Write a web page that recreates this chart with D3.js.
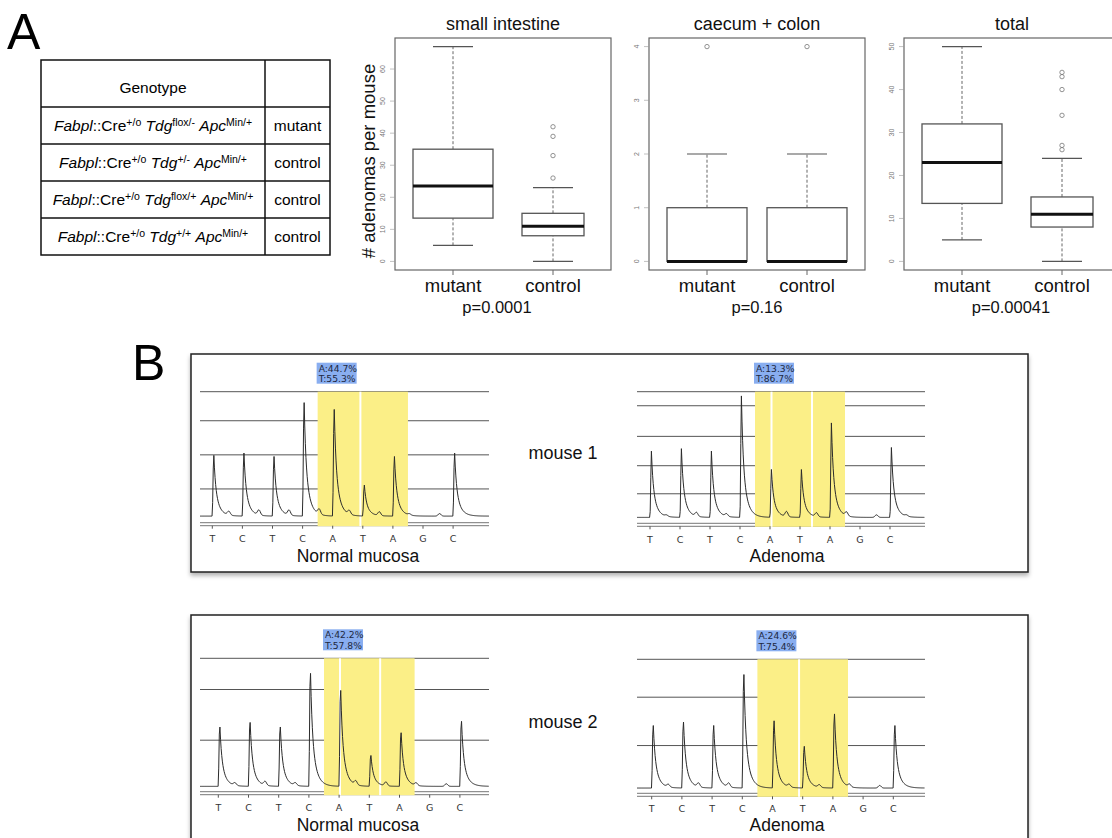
<!DOCTYPE html>
<html>
<head>
<meta charset="utf-8">
<script src="https://cdn.jsdelivr.net/npm/d3@7"></script>
<style>
  body { margin: 0; background: #fff; }
  svg { display: block; }
  text { font-family: "Liberation Sans", Arial, sans-serif; }
</style>
</head>
<body>
<script>
// ---------- panel A: genotype table ----------
var tdgAlleles = ["flox/-", "+/-", "flox/+", "+/+"];
var genoGroups = ["mutant", "control", "control", "control"];

// ---------- panel A: box plots (whisker low, Q1, median, Q3, whisker high) ----------
var boxGroups = ["mutant", "control"];
var boxTitles = ["small intestine", "caecum + colon", "total"];
var pValues = ["p=0.0001", "p=0.16", "p=0.00041"];

var smallIntMutant = [5, 13.5, 23.5, 35, 67];
var smallIntControl = [0, 8, 11, 15, 23];
var smallIntOutliers = [[], [26, 33, 39, 42]];
var smallIntTicks = [0, 10, 20, 30, 40, 50, 60];

var colonMutant = [0, 0, 0, 1, 2];
var colonControl = [0, 0, 0, 1, 2];
var colonOutliers = [[4], [4]];
var colonTicks = [0, 1, 2, 3, 4];

var totalMutant = [5, 13.5, 23, 32, 50];
var totalControl = [0, 8, 11, 15, 24];
var totalOutliers = [[], [26, 27, 34, 40, 43, 44]];
var totalTicks = [0, 10, 20, 30, 40, 50];

// ---------- panel B: pyrosequencing traces ----------
var bases = ["T", "C", "T", "C", "A", "T", "A", "G", "C"];

var m1NormalPeaks = [53, 55, 52, 99, 93, 27, 52, 0, 55];
var m1NormalMinor = [3, 4, 4, 4, 3, 3, 1, 2, 0];
var m1NormalGrid = [100, 77, 50, 23];
var m1NormalCuts = [4.92];
var m1NormalCalls = ["A:44.7%", "T:55.3%"];

var m1AdenomaPeaks = [54, 56, 54, 99, 39, 39, 77, 0, 57];
var m1AdenomaMinor = [1, 3, 2, 0, 4, 3, 3, 2, 1];
var m1AdenomaGrid = [100, 89, 65, 42, 20];
var m1AdenomaCuts = [4.05, 5.4];
var m1AdenomaCalls = ["A:13.3%", "T:86.7%"];

var m2NormalPeaks = [52, 56, 52, 99, 84, 27, 47, 0, 57];
var m2NormalMinor = [2, 3, 2, 0, 3, 3, 2, 2, 0];
var m2NormalGrid = [100, 76, 37];
var m2NormalCuts = [4.03, 5.36];
var m2NormalCalls = ["A:42.2%", "T:57.8%"];

var m2AdenomaPeaks = [54, 57, 54, 98, 58, 36, 64, 0, 54];
var m2AdenomaMinor = [2, 3, 3, 0, 2, 2, 2, 2, 0];
var m2AdenomaGrid = [100, 71, 34];
var m2AdenomaCuts = [4.88];
var m2AdenomaCalls = ["A:24.6%", "T:75.4%"];

var svg = d3.select("body")
    .append("svg")
    .attr("width", 1112)
    .attr("height", 838);

var defs = svg.append("defs");
defs.append("filter")
    .attr("id", "shadow")
    .attr("x", "-5%").attr("y", "-5%").attr("width", "110%").attr("height", "115%")
    .append("feDropShadow")
    .attr("dx", 0).attr("dy", 3).attr("stdDeviation", 2)
    .attr("flood-color", "#000").attr("flood-opacity", 0.3);

// panel letters
svg.append("text").attr("x", 7).attr("y", 49).attr("font-size", 50).text("A");
svg.append("text").attr("x", 132).attr("y", 380).attr("font-size", 50).text("B");

// ================= table =================
var rowLines = [60, 107, 144, 181, 218, 255];
var tLeft = 41, tRight = 330, tDiv = 265;
var table = svg.append("g");

table.append("rect")
    .attr("x", tLeft).attr("y", rowLines[0])
    .attr("width", tRight - tLeft).attr("height", rowLines[5] - rowLines[0])
    .attr("fill", "none").attr("stroke", "#111").attr("stroke-width", 1.5);
table.append("line")
    .attr("x1", tDiv).attr("x2", tDiv).attr("y1", rowLines[0]).attr("y2", rowLines[5])
    .attr("stroke", "#111").attr("stroke-width", 1.5);
table.selectAll(".rowline")
    .data(rowLines.slice(1, 5))
    .enter().append("line")
    .attr("x1", tLeft).attr("x2", tRight)
    .attr("y1", function(d){ return d; }).attr("y2", function(d){ return d; })
    .attr("stroke", "#111").attr("stroke-width", 1.5);

table.append("text")
    .attr("x", (tLeft + tDiv) / 2).attr("y", 93)
    .attr("text-anchor", "middle").attr("font-size", 15.5)
    .text("Genotype");

tdgAlleles.forEach(function(allele, i){
    var yMid = (rowLines[i + 1] + rowLines[i + 2]) / 2 + 5;
    var parts = [
        {t: "Fabpl", it: true}, {t: "::Cre"}, {t: "+/o", sup: true},
        {t: "\u00a0"}, {t: "Tdg", it: true}, {t: allele, sup: true},
        {t: "\u00a0"}, {t: "Apc", it: true}, {t: "Min/+", sup: true}
    ];
    var txt = table.append("text")
        .attr("x", (tLeft + tDiv) / 2).attr("y", yMid)
        .attr("text-anchor", "middle").attr("font-size", 15.5);
    var shifted = false;
    parts.forEach(function(p){
        var ts = txt.append("tspan").text(p.t);
        if (p.it) ts.attr("font-style", "italic");
        if (p.sup) {
            ts.attr("font-size", 10.5).attr("dy", shifted ? 0 : -5);
            shifted = true;
        } else if (shifted) {
            ts.attr("dy", 5);
            shifted = false;
        }
    });
    table.append("text")
        .attr("x", (tDiv + tRight) / 2).attr("y", yMid)
        .attr("text-anchor", "middle").attr("font-size", 15.5)
        .text(genoGroups[i]);
});

// ================= box plots =================
var plotTop = 38, plotBottom = 270, plotW = 216;
var boxPanels = [
    {left: 395, stats: [smallIntMutant, smallIntControl], out: smallIntOutliers, ticks: smallIntTicks, wid: [0.8, 0.62], pShift: -6},
    {left: 649, stats: [colonMutant, colonControl], out: colonOutliers, ticks: colonTicks, wid: [0.8, 0.8], pShift: 0},
    {left: 904, stats: [totalMutant, totalControl], out: totalOutliers, ticks: totalTicks, wid: [0.8, 0.62], pShift: -1}
];

boxPanels.forEach(function(p, k){
    var g = svg.append("g");
    var x = d3.scaleLinear().domain([0.42, 2.58]).range([p.left, p.left + plotW]);
    var allVals = d3.merge([p.stats[0], p.stats[1], p.out[0], p.out[1]]);
    var lo = d3.min(allVals), hi = d3.max(allVals), pad = (hi - lo) * 0.04;
    var y = d3.scaleLinear().domain([lo - pad, hi + pad]).range([plotBottom, plotTop]);

    g.append("rect")
        .attr("x", p.left).attr("y", plotTop)
        .attr("width", plotW).attr("height", plotBottom - plotTop)
        .attr("fill", "none").attr("stroke", "#666").attr("stroke-width", 1.2);

    // y axis ticks and rotated labels
    g.selectAll(".yt").data(p.ticks).enter().append("line")
        .attr("x1", p.left - 5).attr("x2", p.left)
        .attr("y1", function(d){ return y(d); }).attr("y2", function(d){ return y(d); })
        .attr("stroke", "#999").attr("stroke-width", 0.6);
    g.selectAll(".yl").data(p.ticks).enter().append("text")
        .attr("transform", function(d){ return "translate(" + (p.left - 10) + "," + y(d) + ") rotate(-90)"; })
        .attr("text-anchor", "middle").attr("font-size", 7).attr("fill", "#777")
        .text(function(d){ return d; });

    // x ticks and group labels
    boxGroups.forEach(function(name, j){
        var cx = x(j + 1);
        g.append("line")
            .attr("x1", cx).attr("x2", cx).attr("y1", plotBottom).attr("y2", plotBottom + 5)
            .attr("stroke", "#666");
        g.append("text")
            .attr("x", cx).attr("y", 292).attr("text-anchor", "middle")
            .attr("font-size", 18.5).attr("fill", "#111")
            .text(name);

        var s = p.stats[j];
        var half = p.wid[j] / 2;
        var capHalf = 0.2;
        // whiskers
        [[s[0], s[1]], [s[3], s[4]]].forEach(function(w){
            if (w[0] === w[1]) return;
            g.append("line")
                .attr("x1", cx).attr("x2", cx).attr("y1", y(w[0])).attr("y2", y(w[1]))
                .attr("stroke", "#666").attr("stroke-width", 1).attr("stroke-dasharray", "3,2");
        });
        [s[0], s[4]].forEach(function(v){
            g.append("line")
                .attr("x1", x(j + 1 - capHalf)).attr("x2", x(j + 1 + capHalf))
                .attr("y1", y(v)).attr("y2", y(v))
                .attr("stroke", "#555").attr("stroke-width", 1.2);
        });
        // box
        g.append("rect")
            .attr("x", x(j + 1 - half)).attr("y", y(s[3]))
            .attr("width", x(j + 1 + half) - x(j + 1 - half)).attr("height", y(s[1]) - y(s[3]))
            .attr("fill", "#fff").attr("stroke", "#555").attr("stroke-width", 1.3);
        g.append("line")
            .attr("x1", x(j + 1 - half)).attr("x2", x(j + 1 + half))
            .attr("y1", y(s[2])).attr("y2", y(s[2]))
            .attr("stroke", "#111").attr("stroke-width", 3);
        // outliers
        g.selectAll(".o" + j).data(p.out[j]).enter().append("circle")
            .attr("cx", cx).attr("cy", function(d){ return y(d); }).attr("r", 2.2)
            .attr("fill", "none").attr("stroke", "#777").attr("stroke-width", 0.8);
    });

    g.append("text")
        .attr("x", p.left + plotW / 2).attr("y", 30).attr("text-anchor", "middle")
        .attr("font-size", 18).attr("fill", "#111")
        .text(boxTitles[k]);
    g.append("text")
        .attr("x", p.left + plotW / 2 + p.pShift).attr("y", 313).attr("text-anchor", "middle")
        .attr("font-size", 16.5).attr("fill", "#111")
        .text(pValues[k]);
});

svg.append("text")
    .attr("transform", "translate(375,161) rotate(-90)")
    .attr("text-anchor", "middle").attr("font-size", 18.5).attr("fill", "#111")
    .text("# adenomas per mouse");

// ================= panel B =================
svg.append("rect")
    .attr("x", 191).attr("y", 354).attr("width", 837).attr("height", 218)
    .attr("fill", "#fff").attr("stroke", "#222").attr("stroke-width", 1.5)
    .attr("filter", "url(#shadow)");
svg.append("rect")
    .attr("x", 191).attr("y", 615).attr("width", 837).attr("height", 260)
    .attr("fill", "#fff").attr("stroke", "#222").attr("stroke-width", 1.5)
    .attr("filter", "url(#shadow)");

svg.append("text").attr("x", 563).attr("y", 459).attr("text-anchor", "middle")
    .attr("font-size", 18).attr("fill", "#111").text("mouse 1");
svg.append("text").attr("x", 563).attr("y", 728).attr("text-anchor", "middle")
    .attr("font-size", 18).attr("fill", "#111").text("mouse 2");

var chroms = [
    {peaks: m1NormalPeaks, minor: m1NormalMinor, grid: m1NormalGrid, cuts: m1NormalCuts, calls: m1NormalCalls,
     title: "Normal mucosa", left: 200, right: 489, x0: 212.3, step: 30.1, yBase: 518, yTop: 391.7, axisY: 522.7, letterY: 542, titleX: 358, titleY: 561.5},
    {peaks: m1AdenomaPeaks, minor: m1AdenomaMinor, grid: m1AdenomaGrid, cuts: m1AdenomaCuts, calls: m1AdenomaCalls,
     title: "Adenoma", left: 637, right: 925, x0: 650, step: 30, yBase: 519.3, yTop: 391.7, axisY: 523.3, letterY: 542.5, titleX: 787, titleY: 561.5},
    {peaks: m2NormalPeaks, minor: m2NormalMinor, grid: m2NormalGrid, cuts: m2NormalCuts, calls: m2NormalCalls,
     title: "Normal mucosa", left: 200, right: 489, x0: 218.3, step: 30.2, yBase: 788.3, yTop: 658.3, axisY: 791.7, letterY: 810.5, titleX: 358, titleY: 831},
    {peaks: m2AdenomaPeaks, minor: m2AdenomaMinor, grid: m2AdenomaGrid, cuts: m2AdenomaCuts, calls: m2AdenomaCalls,
     title: "Adenoma", left: 637, right: 925, x0: 651.7, step: 30.2, yBase: 790, yTop: 659.3, axisY: 793.3, letterY: 812, titleX: 787, titleY: 831}
];

// peak shape: sharp onset then fast + slow decay (dx in px)
function peakShape(dx){
    if (dx < -1.2) return 0;
    if (dx < 0) return 1 + dx / 1.2;
    return 0.55 * Math.exp(-dx / 1.8) + 0.45 * Math.exp(-dx / 4.8);
}
function bump(dx){
    return Math.exp(-dx * dx / 4);
}

chroms.forEach(function(c){
    var g = svg.append("g");
    var x = d3.scaleLinear().domain([0, bases.length - 1]).range([c.x0, c.x0 + (bases.length - 1) * c.step]);
    var y = d3.scaleLinear().domain([0, 100]).range([c.yBase, c.yTop]);

    // grid lines and double baseline
    g.selectAll(".grid").data(c.grid).enter().append("line")
        .attr("x1", c.left).attr("x2", c.right)
        .attr("y1", function(d){ return y(d); }).attr("y2", function(d){ return y(d); })
        .attr("stroke", "#555").attr("stroke-width", 1);
    [c.axisY, c.axisY + 3].forEach(function(ay){
        g.append("line").attr("x1", c.left).attr("x2", c.right).attr("y1", ay).attr("y2", ay)
            .attr("stroke", "#777").attr("stroke-width", 1);
    });

    // highlighted region with white separators
    var shadeBottom = c.axisY + 3.5;
    g.append("rect")
        .attr("x", x(3.5)).attr("y", y(100))
        .attr("width", x(6.5) - x(3.5)).attr("height", shadeBottom - y(100))
        .attr("fill", "#fbef87");
    g.selectAll(".cut").data(c.cuts).enter().append("rect")
        .attr("x", function(d){ return x(d) - 1; }).attr("y", y(100))
        .attr("width", 2).attr("height", shadeBottom - y(100))
        .attr("fill", "#fff");

    // base ticks and letters
    g.selectAll(".bt").data(bases).enter().append("line")
        .attr("x1", function(d, i){ return x(i); }).attr("x2", function(d, i){ return x(i); })
        .attr("y1", c.axisY + 3).attr("y2", c.axisY + 6)
        .attr("stroke", "#555");
    g.selectAll(".bl").data(bases).enter().append("text")
        .attr("x", function(d, i){ return x(i); }).attr("y", c.letterY)
        .attr("text-anchor", "middle").attr("font-size", 9.5).attr("fill", "#333")
        .style("font-family", "'DejaVu Sans', sans-serif")
        .text(function(d){ return d; });

    // trace
    var pts = d3.range(x.invert(c.left), x.invert(c.right), 0.02).map(function(u){
        var v = 1.5;
        c.peaks.forEach(function(h, i){ v += h * peakShape((u - i) * c.step - 1.3); });
        c.minor.forEach(function(h, i){ v += h * bump((u - i - 0.55) * c.step); });
        return [u, v];
    });
    g.append("path")
        .datum(pts)
        .attr("fill", "none").attr("stroke", "#2b2b2b").attr("stroke-width", 1)
        .attr("d", d3.line().x(function(d){ return x(d[0]); }).y(function(d){ return y(d[1]); }));

    // allele call label
    var lx = x(3.5);
    g.append("rect")
        .attr("x", lx - 1).attr("y", c.yTop - 29)
        .attr("width", 40).attr("height", 21)
        .attr("fill", "#89aef0");
    c.calls.forEach(function(t, i){
        g.append("text")
            .attr("x", lx + 1).attr("y", c.yTop - 20 + i * 10.5)
            .attr("font-size", 9.2).attr("fill", "#1d2840")
            .style("font-family", "'DejaVu Sans', sans-serif")
            .text(t);
    });

    g.append("text")
        .attr("x", c.titleX).attr("y", c.titleY).attr("text-anchor", "middle")
        .attr("font-size", 17.5).attr("fill", "#111")
        .text(c.title);
});
</script>
</body>
</html>
